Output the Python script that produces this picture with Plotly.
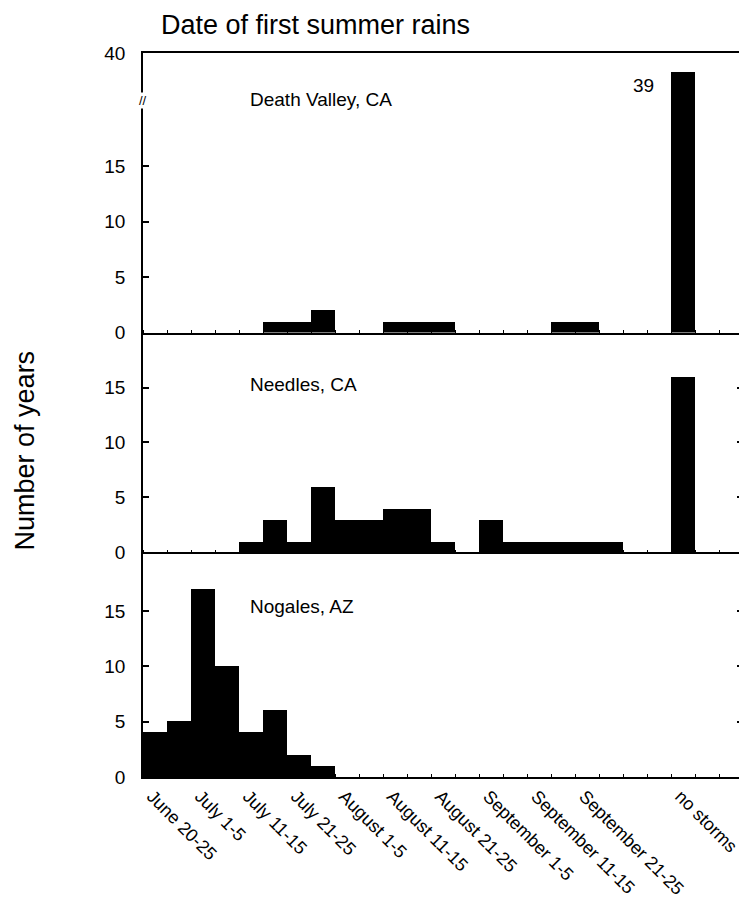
import plotly.graph_objects as go
from plotly.subplots import make_subplots

# ---------------- data ----------------
BINS = ["June 20-25", "June 26-30", "July 1-5", "July 6-10", "July 11-15",
        "July 16-20", "July 21-25", "July 26-31", "August 1-5", "August 6-10",
        "August 11-15", "August 16-20", "August 21-25", "August 26-31",
        "September 1-5", "September 6-10", "September 11-15", "September 16-20",
        "September 21-25", "September 26-30", "", "", "no storms"]
LABELED = ["June 20-25", "July 1-5", "July 11-15", "July 21-25", "August 1-5",
           "August 11-15", "August 21-25", "September 1-5", "September 11-15",
           "September 21-25", "no storms"]

STATIONS = ["Death Valley, CA", "Needles, CA", "Nogales, AZ"]
death_valley = [0, 0, 0, 0, 0, 1, 1, 2, 0, 0, 1, 1, 1, 0, 0, 0, 0, 1, 1, 0, 0, 0, 39]
needles = [0, 0, 0, 0, 1, 3, 1, 6, 3, 3, 4, 4, 1, 0, 3, 1, 1, 1, 1, 1, 0, 0, 16]
nogales = [4, 5, 17, 10, 4, 6, 2, 1, 0, 0, 0, 0, 0, 0, 0, 0, 0, 0, 0, 0, 0, 0, 0]
SERIES = [death_valley, needles, nogales]

Y_TICKS = [0, 5, 10, 15]
BROKEN_TOP = 40          # value shown at top of the broken Death Valley axis

# ---------------- scale helpers ----------------
AX1_TOP = 25.2           # display units of top panel
BREAK_AT = 20            # values above this are compressed
ABOVE_SCALE = 1.7        # display units per count above the break


def disp1(v):
    """broken-axis transform for the Death Valley panel"""
    if v <= BREAK_AT:
        return v
    return AX1_TOP - (BROKEN_TOP - v) * ABOVE_SCALE


xpos = list(range(len(BINS)))
FONT = "Liberation Sans, Arial, Helvetica, sans-serif"

fig = make_subplots(rows=3, cols=1, shared_xaxes=True, vertical_spacing=0,
                    row_heights=[280, 220, 225])

for i, vals in enumerate(SERIES):
    yv = [disp1(v) for v in vals] if i == 0 else vals
    fig.add_trace(go.Bar(
        x=xpos, y=yv, customdata=vals, width=1.0,
        marker=dict(color="black", line=dict(width=0)),
        hovertemplate="%{text}: %{customdata}<extra>" + STATIONS[i] + "</extra>",
        text=BINS, textposition="none", showlegend=False),
        row=i + 1, col=1)

xrange = [-0.5, 24.48]
axis_common = dict(showline=True, linecolor="black", linewidth=1.6,
                   showgrid=False, zeroline=False)

for r in (1, 2, 3):
    fig.update_xaxes(range=xrange, row=r, col=1, **axis_common,
                     ticks="", showticklabels=False,
                     minor=dict(ticks="inside", ticklen=3, tick0=-0.5, dtick=1,
                                tickcolor="black", tickwidth=1, showgrid=False))
fig.update_xaxes(mirror=True, row=1, col=1)
fig.update_xaxes(row=3, col=1, showticklabels=True, tickmode="array",
                 tickvals=[BINS.index(b) for b in LABELED], ticktext=LABELED,
                 tickangle=45, ticklabelshift=-3,
                 tickfont=dict(family=FONT, size=18, color="black"))

ytick_font = dict(family=FONT, size=19, color="black")
fig.update_yaxes(row=1, col=1, range=[0, AX1_TOP], **axis_common,
                 tickmode="array",
                 tickvals=Y_TICKS + [disp1(BROKEN_TOP)],
                 ticktext=[str(t) for t in Y_TICKS] + [str(BROKEN_TOP)],
                 ticks="inside", ticklen=6, tickwidth=1.5, tickcolor="black",
                 tickfont=ytick_font, ticklabelstandoff=12)
fig.update_yaxes(row=2, col=1, range=[0, 20.0], **axis_common, mirror="ticks",
                 tickmode="array", tickvals=Y_TICKS,
                 ticks="inside", ticklen=6, tickwidth=1.5, tickcolor="black",
                 tickfont=ytick_font, ticklabelstandoff=12)
fig.update_yaxes(row=3, col=1, range=[0, 20.3], **axis_common, mirror="ticks",
                 tickmode="array", tickvals=Y_TICKS,
                 ticks="inside", ticklen=6, tickwidth=1.5, tickcolor="black",
                 tickfont=ytick_font, ticklabelstandoff=12)

# partial right frame of top panel (neighbouring panel's axis, below its break)
fig.add_shape(type="line", xref="x domain", yref="y", x0=1, x1=1, y0=0, y1=16.4,
              line=dict(color="black", width=1.6))

# station labels
label_y = [21.0, 15.3, 15.4]
for i, name in enumerate(STATIONS):
    yref = "y" if i == 0 else f"y{i + 1}"
    fig.add_annotation(text=name, xref="x domain", yref=yref, x=0.175, y=label_y[i],
                       xanchor="left", yanchor="middle", showarrow=False,
                       font=dict(family=FONT, size=19, color="black"))

# value label for the truncated bar
nb = BINS.index("no storms")
fig.add_annotation(text=str(death_valley[nb]), x=nb - 0.5, y=disp1(death_valley[nb]),
                   xref="x", yref="y", xanchor="right", yanchor="top",
                   xshift=-15, yshift=-1, showarrow=False,
                   font=dict(family=FONT, size=19, color="black"))

# axis break marks
fig.add_annotation(text="//", xref="x domain", yref="y", x=0, y=20.9,
                   xanchor="center", yanchor="middle", showarrow=False,
                   bgcolor="white", borderpad=0,
                   font=dict(family=FONT, size=13, color="black"))
fig.add_annotation(text="//", xref="x domain", yref="y", x=1, y=18.9,
                   xanchor="center", yanchor="middle", showarrow=False,
                   font=dict(family=FONT, size=11, color="black"))

# title and y-axis title (kept fully inside the figure)
fig.add_annotation(text="Date of first summer rains", xref="paper", yref="paper",
                   x=(160 - 143) / 602, y=1.0, yshift=44, xanchor="left",
                   yanchor="top", showarrow=False, borderpad=0,
                   font=dict(family=FONT, size=27, color="black"))
fig.add_annotation(text="Number of years", xref="paper", yref="paper",
                   x=0, xshift=-134, y=(778 - 451) / 725, textangle=-90,
                   xanchor="left", yanchor="middle", showarrow=False, borderpad=0,
                   font=dict(family=FONT, size=27, color="black"))

# the page body keeps an 8px default margin, so the figure is 8px smaller
fig.update_layout(width=739, height=893, bargap=0,
                  margin=dict(l=135, r=2, t=45, b=123, pad=0),
                  plot_bgcolor="white", paper_bgcolor="white",
                  font=dict(family=FONT, color="black"))

fig.write_html("out.html")
